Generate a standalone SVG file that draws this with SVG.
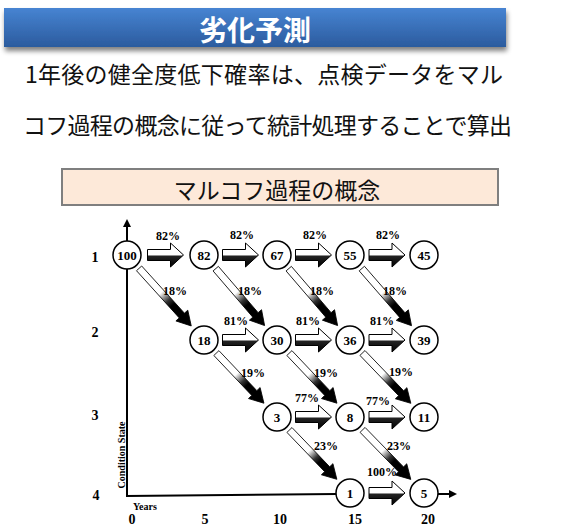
<svg xmlns="http://www.w3.org/2000/svg" width="567" height="526" viewBox="0 0 567 526">
<style>
.jp{font-family:"Noto Sans CJK JP","Noto Sans CJK SC",sans-serif;}
.title{font-size:28px;font-weight:bold;fill:#fff;}
.body{font-size:23px;fill:#111;}
.sr{font-family:"Liberation Serif","Times New Roman",serif;font-weight:bold;fill:#000;}
.pct{font-size:12px;text-anchor:middle;}
.num{font-size:13px;text-anchor:middle;}
.ax{font-size:14px;text-anchor:middle;}
.node circle{fill:#fff;stroke:#000;stroke-width:1.5;}
.harr{fill:url(#gh);stroke:#000;stroke-width:1;}
.darr{fill:url(#gd);stroke:#000;stroke-width:0.8;}
.axis{stroke:#000;stroke-width:2;fill:none;}
</style>
<defs>
<linearGradient id="gtitle" x1="0" y1="0" x2="0" y2="1">
<stop offset="0" stop-color="#4784d2"/>
<stop offset="1" stop-color="#2b5b9e"/>
</linearGradient>
<linearGradient id="gh" x1="0" y1="0" x2="0" y2="1">
<stop offset="0" stop-color="#fff"/>
<stop offset="0.48" stop-color="#fff"/>
<stop offset="0.56" stop-color="#222"/>
<stop offset="1" stop-color="#000"/>
</linearGradient>
<linearGradient id="gd" x1="0" y1="0" x2="1" y2="0">
<stop offset="0" stop-color="#fff"/>
<stop offset="0.42" stop-color="#fff"/>
<stop offset="0.56" stop-color="#333"/>
<stop offset="0.64" stop-color="#000"/>
<stop offset="1" stop-color="#000"/>
</linearGradient>
<filter id="sh" x="-5%" y="-30%" width="110%" height="170%">
<feGaussianBlur in="SourceAlpha" stdDeviation="2.5"/>
<feOffset dx="1" dy="4" result="b"/>
<feComponentTransfer><feFuncA type="linear" slope="0.5"/></feComponentTransfer>
<feMerge><feMergeNode/><feMergeNode in="SourceGraphic"/></feMerge>
</filter>
<path id="ha" d="M0,-5.5 H23 V-12 L36,0 L23,12 V5.5 H0 Z"/>
<marker id="ah" markerWidth="8" markerHeight="8" refX="6" refY="4" orient="auto" markerUnits="userSpaceOnUse">
<path d="M0,0 L8,4 L0,8 Z" fill="#000"/>
</marker>
</defs>

<g id="header">
<rect x="4" y="8" width="502" height="39" fill="url(#gtitle)" filter="url(#sh)"/>
<text class="jp title" x="255" y="41" text-anchor="middle">劣化予測</text>
<text class="jp body" x="25" y="83" textLength="478" lengthAdjust="spacing">1年後の健全度低下確率は、点検データをマル</text>
<text class="jp body" x="23" y="134" textLength="489" lengthAdjust="spacing">コフ過程の概念に従って統計処理することで算出</text>
</g>

<g id="subtitle">
<rect x="62" y="169" width="436" height="36" fill="#fde9d9" stroke="#7f7f7f" stroke-width="2"/>
<text class="jp body" x="277" y="199" text-anchor="middle">マルコフ過程の概念</text>
</g>

<g id="axes">
<line class="axis" x1="127" y1="241" x2="127" y2="221" marker-end="url(#ah)"/>
<line class="axis" x1="127" y1="269" x2="127" y2="496"/>
<line class="axis" x1="126" y1="496" x2="337" y2="494"/>
<line class="axis" x1="438" y1="494" x2="455" y2="494" marker-end="url(#ah)"/>
<text class="sr ax" x="95" y="262">1</text>
<text class="sr ax" x="95" y="337">2</text>
<text class="sr ax" x="95" y="420">3</text>
<text class="sr ax" x="96" y="500">4</text>
<text class="sr" font-size="10" text-anchor="middle" transform="translate(125,455) rotate(-90)">Condition State</text>
<text class="sr" font-size="10" x="133" y="510">Years</text>
<text class="sr ax" x="132" y="524">0</text>
<text class="sr ax" x="205" y="524">5</text>
<text class="sr ax" x="280" y="524">10</text>
<text class="sr ax" x="355" y="524">15</text>
<text class="sr ax" x="428" y="524">20</text>
</g>

<g id="connectors">
<use href="#ha" class="harr" x="147.5" y="255"/>
<use href="#ha" class="harr" x="222.5" y="255"/>
<use href="#ha" class="harr" x="295.5" y="255"/>
<use href="#ha" class="harr" x="369" y="255"/>
<use href="#ha" class="harr" x="222.5" y="340"/>
<use href="#ha" class="harr" x="295.5" y="340"/>
<use href="#ha" class="harr" x="369" y="340"/>
<use href="#ha" class="harr" x="295.5" y="417"/>
<use href="#ha" class="harr" x="369" y="417"/>
<use href="#ha" class="harr" x="369" y="493"/>
<path class="darr" transform="translate(127,255) rotate(47.83)" d="M18,-3.5 H81.7 V-8 L95.7,0 L81.7,8 V3.5 H18 Z"/>
<path class="darr" transform="translate(204,255) rotate(49.35)" d="M18,-3.5 H79 V-8 L93,0 L79,8 V3.5 H18 Z"/>
<path class="darr" transform="translate(277,255) rotate(49.35)" d="M18,-3.5 H79 V-8 L93,0 L79,8 V3.5 H18 Z"/>
<path class="darr" transform="translate(350,255) rotate(48.96)" d="M18,-3.5 H79.7 V-8 L93.7,0 L79.7,8 V3.5 H18 Z"/>
<path class="darr" transform="translate(204,340) rotate(46.52)" d="M18,-3.5 H73.1 V-8 L87.1,0 L73.1,8 V3.5 H18 Z"/>
<path class="darr" transform="translate(277,340) rotate(46.52)" d="M18,-3.5 H73.1 V-8 L87.1,0 L73.1,8 V3.5 H18 Z"/>
<path class="darr" transform="translate(350,340) rotate(46.14)" d="M18,-3.5 H73.8 V-8 L87.8,0 L73.8,8 V3.5 H18 Z"/>
<path class="darr" transform="translate(277,417) rotate(46.15)" d="M18,-3.5 H72.4 V-8 L86.4,0 L72.4,8 V3.5 H18 Z"/>
<path class="darr" transform="translate(350,417) rotate(45.74)" d="M18,-3.5 H73.1 V-8 L87.1,0 L73.1,8 V3.5 H18 Z"/>
<text class="sr pct" x="168" y="240">82%</text>
<text class="sr pct" x="242" y="239">82%</text>
<text class="sr pct" x="315" y="239">82%</text>
<text class="sr pct" x="388" y="239">82%</text>
<text class="sr pct" x="175" y="295">18%</text>
<text class="sr pct" x="250" y="295">18%</text>
<text class="sr pct" x="322" y="295">18%</text>
<text class="sr pct" x="395" y="295">18%</text>
<text class="sr pct" x="236" y="325">81%</text>
<text class="sr pct" x="308" y="325">81%</text>
<text class="sr pct" x="382" y="325">81%</text>
<text class="sr pct" x="253" y="377">19%</text>
<text class="sr pct" x="326" y="377">19%</text>
<text class="sr pct" x="401" y="376">19%</text>
<text class="sr pct" x="307" y="402">77%</text>
<text class="sr pct" x="378" y="405">77%</text>
<text class="sr pct" x="326" y="450">23%</text>
<text class="sr pct" x="399" y="450">23%</text>
<text class="sr pct" x="382" y="476">100%</text>
</g>

<g id="n100" class="node"><circle cx="127" cy="255" r="14"/><text class="sr num" x="127" y="259.5" font-size="11">100</text></g>
<g id="n82" class="node"><circle cx="204" cy="255" r="14"/><text class="sr num" x="204" y="259.5">82</text></g>
<g id="n67" class="node"><circle cx="277" cy="255" r="14"/><text class="sr num" x="277" y="259.5">67</text></g>
<g id="n55" class="node"><circle cx="350" cy="255" r="14"/><text class="sr num" x="350" y="259.5">55</text></g>
<g id="n45" class="node"><circle cx="424" cy="255" r="14"/><text class="sr num" x="424" y="259.5">45</text></g>
<g id="n18" class="node"><circle cx="204" cy="340" r="14"/><text class="sr num" x="204" y="344.5">18</text></g>
<g id="n30" class="node"><circle cx="277" cy="340" r="14"/><text class="sr num" x="277" y="344.5">30</text></g>
<g id="n36" class="node"><circle cx="350" cy="340" r="14"/><text class="sr num" x="350" y="344.5">36</text></g>
<g id="n39" class="node"><circle cx="424" cy="340" r="14"/><text class="sr num" x="424" y="344.5">39</text></g>
<g id="n3" class="node"><circle cx="277" cy="417" r="14"/><text class="sr num" x="277" y="421.5">3</text></g>
<g id="n8" class="node"><circle cx="350" cy="417" r="14"/><text class="sr num" x="350" y="421.5">8</text></g>
<g id="n11" class="node"><circle cx="424" cy="417" r="14"/><text class="sr num" x="424" y="421.5">11</text></g>
<g id="n1" class="node"><circle cx="350" cy="493" r="14"/><text class="sr num" x="350" y="497.5">1</text></g>
<g id="n5" class="node"><circle cx="424" cy="493" r="14"/><text class="sr num" x="424" y="497.5">5</text></g>
</svg>
